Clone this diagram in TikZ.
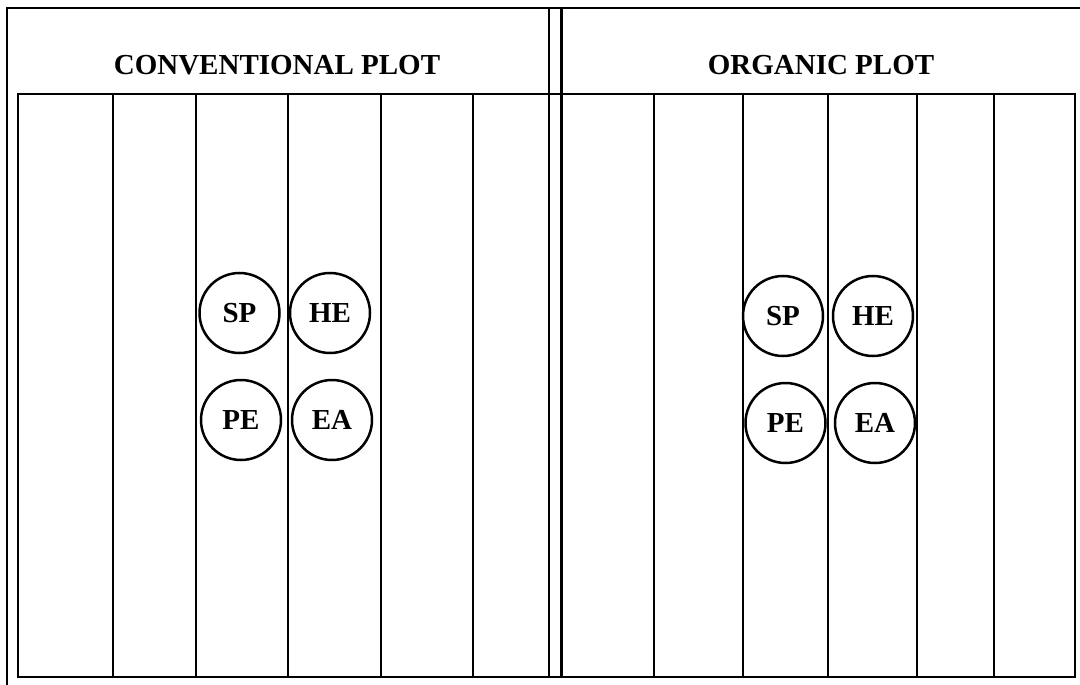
\documentclass[tikz,border=0pt]{standalone}
\usepackage{fontspec}
\setmainfont{Liberation Serif}
\begin{document}
\begin{tikzpicture}[x=1pt,y=-1pt,
  ln/.style={line width=2.8pt,line cap=rect},
  title/.style={font=\fontsize{29}{30}\selectfont\bfseries,anchor=base,inner sep=0},
  ins/.style={circle,draw,line width=2.5pt,minimum size=80pt,inner sep=0,
    font=\fontsize{29}{29}\selectfont\bfseries}]
\useasboundingbox (0,0) rectangle (1080,685);
% outer frame
\coordinate (tl) at (7,8);
\coordinate (tr) at (1080,8);
\coordinate (bl) at (7,684);
\draw[ln] (bl) -- (tl) -- (tr);
% double divider
\draw[ln,line cap=butt] (549,8) -- (549,677);
\draw[ln,line cap=butt] (561.5,8) -- (561.5,677);
% grid horizontal
\draw[ln] (18,94) -- (1075,94);
\draw[ln] (18,677) -- (1075,677);
% left columns
\foreach \x in {18,113,196,288,381,473}
  \draw[ln,line cap=butt] (\x,94) -- (\x,677);
% right columns
\foreach \x in {654,743,828,917,994,1075}
  \draw[ln,line cap=butt] (\x,94) -- (\x,677);
% titles
\node[title] (t1) at (277,75) {CONVENTIONAL PLOT};
\node[title] (t2) at (821,75) {ORGANIC PLOT};
% left circles
\node[ins] (lsp) at (239.5,313) {SP};
\node[ins] (lhe) at (330,313) {HE};
\node[ins] (lpe) at (241,420) {PE};
\node[ins] (lea) at (332,420) {EA};
% right circles
\node[ins] (rsp) at (783,316) {SP};
\node[ins] (rhe) at (873,316) {HE};
\node[ins] (rpe) at (785.5,423) {PE};
\node[ins] (rea) at (875,423) {EA};
\end{tikzpicture}
\end{document}
